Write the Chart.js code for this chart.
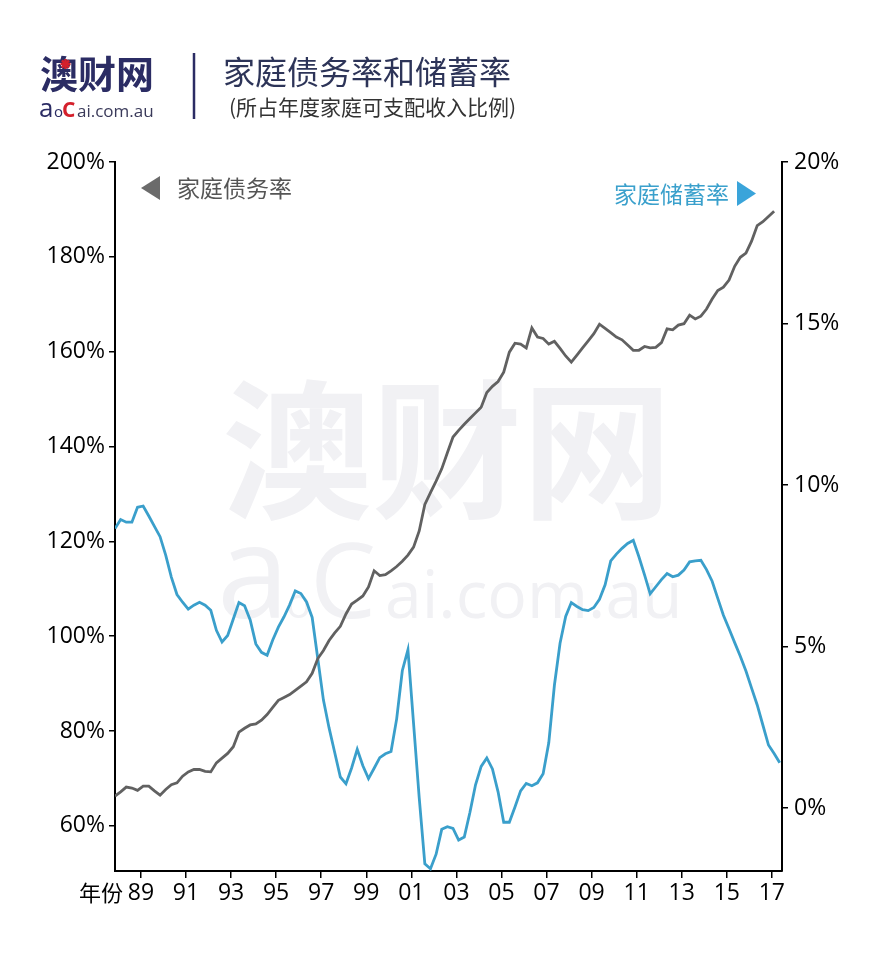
<!DOCTYPE html>
<html>
<head>
<meta charset="utf-8">
<script src="https://cdn.jsdelivr.net/npm/chart.js@4.4.1/dist/chart.umd.min.js"></script>
<style>
  html, body { margin: 0; padding: 0; background: #fff; }
  #wrap { width: 880px; height: 963px; }
</style>
</head>
<body>
<div id="wrap"><canvas id="myChart" width="880" height="963"></canvas></div>
<script>
// quarterly data, first quarter sits on the left edge of the plot
const startYear = 1987.85;
const yearTicks = [1989, 1991, 1993, 1995, 1997, 1999, 2001, 2003, 2005, 2007, 2009, 2011, 2013, 2015, 2017];
const debtTicks = [60, 80, 100, 120, 140, 160, 180, 200];
const savingTicks = [0, 5, 10, 15, 20];

// 家庭债务率 (%), left axis
const debtRatio = [
  66.3, 67.2, 68.2, 68.0, 67.5, 68.4, 68.4, 67.4, 66.5, 67.7,
  68.7, 69.1, 70.5, 71.4, 71.9, 71.9, 71.5, 71.4, 73.3, 74.3,
  75.3, 76.7, 79.8, 80.6, 81.3, 81.5, 82.3, 83.5, 85.0, 86.5,
  87.1, 87.7, 88.6, 89.5, 90.4, 92.2, 95.3, 97.0, 99.1, 100.7,
  102.1, 104.7, 106.8, 107.6, 108.5, 110.4, 113.8, 112.8, 113.0, 113.8,
  114.7, 115.8, 117.1, 118.8, 122.2, 127.8, 130.3, 132.7, 135.3, 138.7,
  142.0, 143.4, 144.7, 145.9, 147.1, 148.3, 151.4, 152.7, 153.7, 155.7,
  159.9, 161.8, 161.6, 160.8, 165.0, 163.1, 162.8, 161.6, 162.2, 160.7,
  159.1, 157.8, 159.3, 160.8, 162.3, 163.8, 165.8, 164.9, 164.0, 163.1,
  162.5, 161.4, 160.3, 160.3, 161.1, 160.8, 160.9, 161.9, 164.8, 164.6,
  165.6, 165.9, 167.7, 166.9, 167.5, 169.0, 171.1, 172.9, 173.6, 175.1,
  178.0, 179.9, 180.8, 183.3, 186.6, 187.4, 188.5, 189.6
];

// 家庭储蓄率 (%), right axis
const savingRate = [
  8.65, 8.93, 8.85, 8.85, 9.31, 9.35, 9.04, 8.72, 8.40, 7.83,
  7.15, 6.61, 6.37, 6.16, 6.28, 6.37, 6.28, 6.12, 5.50, 5.14,
  5.34, 5.85, 6.36, 6.26, 5.82, 5.08, 4.82, 4.73, 5.20, 5.60,
  5.92, 6.29, 6.72, 6.64, 6.38, 5.90, 4.62, 3.34, 2.48, 1.72,
  0.96, 0.75, 1.24, 1.82, 1.31, 0.91, 1.23, 1.56, 1.68, 1.75,
  2.76, 4.25, 4.90, 2.61, 0.32, -1.73, -1.88, -1.43, -0.66, -0.58,
  -0.63, -0.99, -0.90, -0.14, 0.72, 1.29, 1.55, 1.21, 0.50, -0.44,
  -0.44, 0.03, 0.53, 0.76, 0.69, 0.78, 1.06, 2.02, 3.80, 5.10,
  5.93, 6.36, 6.24, 6.14, 6.11, 6.21, 6.46, 6.91, 7.65, 7.86,
  8.04, 8.19, 8.29, 7.78, 7.22, 6.63, 6.85, 7.07, 7.26, 7.16,
  7.21, 7.37, 7.62, 7.65, 7.67, 7.38, 7.02, 6.49, 5.97, 5.55,
  5.12, 4.70, 4.24, 3.71, 3.19, 2.57, 1.95, 1.69, 1.40
];

const quarterX = savingRate.map((v, i) => startYear + i * 0.25);
const toPoints = (arr) => arr.map((v, i) => ({ x: quarterX[i], y: v }));

const CJK = '"Noto Sans CJK SC", sans-serif';
const NAVY = "#2b2c64";
const GRAY = "#616161";
const BLUE = "#3a9fcb";

const decor = {
  id: "decor",
  beforeDraw(chart) {
    const ctx = chart.ctx;
    ctx.save();
    ctx.fillStyle = "#fff";
    ctx.fillRect(0, 0, chart.width, chart.height);

    // watermark
    ctx.fillStyle = "#f1f1f4";
    ctx.textBaseline = "middle";
    ctx.font = "bold 150px " + CJK;
    ctx.fillText("澳财网", 222, 450);
    ctx.textBaseline = "alphabetic";
    ctx.font = '130px "Open Sans"';
    ctx.fillText("a", 217, 618);
    ctx.font = '42px "Open Sans"';
    ctx.fillText("o", 286, 618);
    ctx.font = '105px "Open Sans"';
    ctx.fillText("C", 310, 618);
    ctx.font = '66px "Open Sans"';
    ctx.fillText("ai.com.au", 385, 618);
    ctx.restore();
  },
  afterDraw(chart) {
    const ctx = chart.ctx;
    ctx.save();

    // logo
    ctx.textBaseline = "middle";
    ctx.fillStyle = NAVY;
    ctx.font = "bold 38px " + CJK;
    ctx.fillText("澳财网", 40, 74);
    ctx.strokeStyle = "#d4202c";
    ctx.lineWidth = 2.5;
    for (let a = 0; a < 4; a++) {
      const ang = (a * Math.PI) / 4;
      ctx.beginPath();
      ctx.moveTo(65.5 - 5 * Math.cos(ang), 64 - 5 * Math.sin(ang));
      ctx.lineTo(65.5 + 5 * Math.cos(ang), 64 + 5 * Math.sin(ang));
      ctx.stroke();
    }
    ctx.textBaseline = "alphabetic";
    ctx.font = '26px "Open Sans"';
    ctx.fillText("a", 39, 117);
    ctx.font = '15px "Open Sans"';
    ctx.fillText("o", 54, 117);
    ctx.fillStyle = "#d4202c";
    ctx.font = 'bold 21px "Open Sans"';
    ctx.fillText("C", 62, 117);
    ctx.fillStyle = "#3a3a5a";
    ctx.font = '17px "Open Sans"';
    ctx.fillText("ai.com.au", 77, 117);

    // divider
    ctx.strokeStyle = NAVY;
    ctx.lineWidth = 2.5;
    ctx.beginPath();
    ctx.moveTo(194, 53);
    ctx.lineTo(194, 119);
    ctx.stroke();

    // title
    ctx.textBaseline = "middle";
    ctx.fillStyle = "#2d3458";
    ctx.font = "32px " + CJK;
    ctx.fillText("家庭债务率和储蓄率", 223, 72);
    ctx.fillStyle = "#333";
    ctx.font = "21px " + CJK;
    ctx.fillText("(所占年度家庭可支配收入比例)", 229, 107);

    // series labels
    ctx.fillStyle = "#6b6b6b";
    ctx.beginPath();
    ctx.moveTo(141, 188);
    ctx.lineTo(160, 176);
    ctx.lineTo(160, 200);
    ctx.closePath();
    ctx.fill();
    ctx.fillStyle = "#555";
    ctx.font = "23px " + CJK;
    ctx.fillText("家庭债务率", 177, 188);

    ctx.fillStyle = "#3aa0cc";
    ctx.fillText("家庭储蓄率", 614, 194);
    ctx.fillStyle = "#3aa4da";
    ctx.beginPath();
    ctx.moveTo(737, 181);
    ctx.lineTo(756, 193.5);
    ctx.lineTo(737, 206);
    ctx.closePath();
    ctx.fill();

    // x axis caption
    ctx.fillStyle = "#000";
    ctx.font = "22px " + CJK;
    ctx.fillText("年份", 79, 893);
    ctx.restore();
  }
};

const axisGrid = { display: true, drawOnChartArea: false, drawTicks: true, tickLength: 7, color: "#000", lineWidth: 1.5 };
const axisBorder = { display: true, color: "#000", width: 2 };
const tickFont = { family: '"Open Sans"', size: 23 };

new Chart("myChart", {
  type: "line",
  data: {
    datasets: [
      {
        label: "家庭债务率",
        data: toPoints(debtRatio),
        yAxisID: "yL",
        borderColor: GRAY,
        borderWidth: 2.8,
        pointRadius: 0,
        tension: 0,
        order: 1
      },
      {
        label: "家庭储蓄率",
        data: toPoints(savingRate),
        yAxisID: "yR",
        borderColor: BLUE,
        borderWidth: 2.8,
        pointRadius: 0,
        tension: 0,
        order: 2
      }
    ]
  },
  options: {
    responsive: false,
    animation: false,
    devicePixelRatio: 1,
    layout: { padding: { left: 0, right: 0, top: 162, bottom: 52 } },
    plugins: { legend: { display: false }, tooltip: { enabled: false } },
    scales: {
      x: {
        type: "linear",
        min: 1987.85,
        max: 2017.45,
        afterBuildTicks: (s) => { s.ticks = yearTicks.map((v) => ({ value: v })); },
        afterFit: (s) => { s.height = 40; },
        ticks: {
          callback: (v) => String(v).slice(2),
          color: "#000",
          font: tickFont,
          padding: 2,
          maxRotation: 0,
          autoSkip: false
        },
        grid: axisGrid,
        border: axisBorder
      },
      yL: {
        position: "left",
        min: 50.5,
        max: 200,
        afterBuildTicks: (s) => { s.ticks = debtTicks.map((v) => ({ value: v })); },
        afterFit: (s) => { s.width = 115; },
        ticks: { callback: (v) => v + "%", color: "#000", font: tickFont, padding: 4 },
        grid: Object.assign({}, axisGrid, { tickLength: 6 }),
        border: axisBorder
      },
      yR: {
        position: "right",
        min: -1.95,
        max: 20,
        afterBuildTicks: (s) => { s.ticks = savingTicks.map((v) => ({ value: v })); },
        afterFit: (s) => { s.width = 98; },
        ticks: { callback: (v) => v + "%", color: "#000", font: tickFont, padding: 6 },
        grid: Object.assign({}, axisGrid, { tickLength: 6 }),
        border: axisBorder
      }
    }
  },
  plugins: [decor]
});
</script>
</body>
</html>
